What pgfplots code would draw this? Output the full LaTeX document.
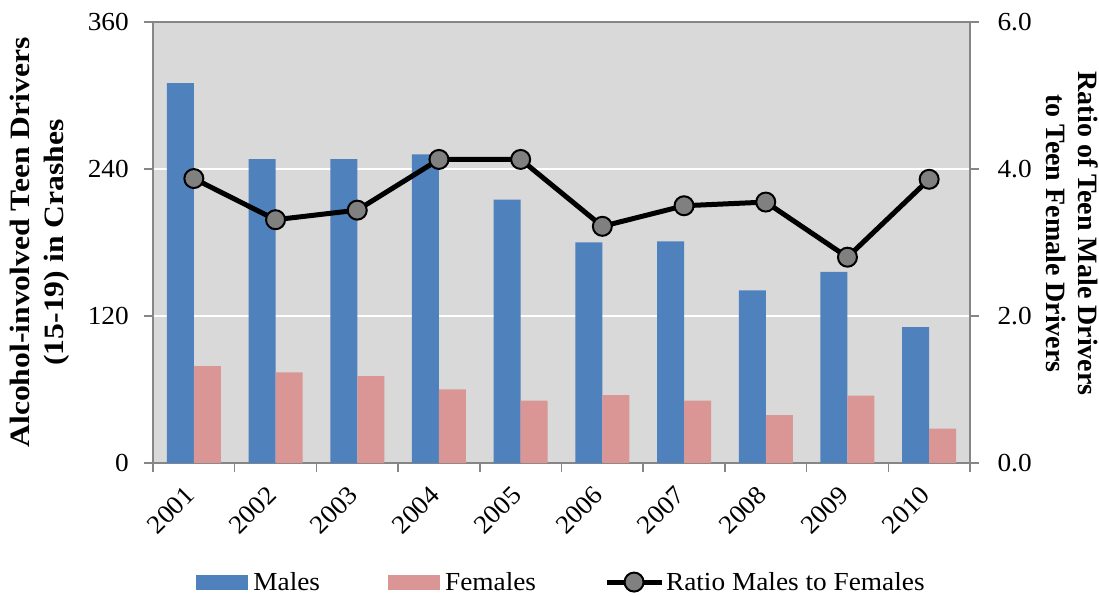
\documentclass[border=0pt]{standalone}
\usepackage{fontspec}
\setmainfont[FakeStretch=1.05]{Liberation Serif}
\newfontfamily\labelfont[FakeStretch=1.13]{Liberation Serif}
\newfontfamily\rlabelfont{Liberation Serif}
\usepackage{pgfplots}
\usepackage{pgfplotstable}
\pgfplotsset{compat=1.18}

\definecolor{males}{RGB}{79,129,189}
\definecolor{females}{RGB}{218,150,148}
\definecolor{plotbg}{RGB}{217,217,217}
\definecolor{axisgray}{RGB}{134,134,134}
\definecolor{markgray}{RGB}{128,128,128}

% Alcohol-involved teen drivers in crashes, by year
\pgfplotstableread{
idx year males females ratio
0 2001 310 79   3.87
1 2002 248 74   3.31
2 2003 248 71   3.44
3 2004 252 60   4.13
4 2005 215 51   4.13
5 2006 180 55.5 3.22
6 2007 181 51   3.50
7 2008 141 39   3.55
8 2009 156 55   2.80
9 2010 111 28   3.86
}\crashdata

\pgfplotsset{
  base/.style={
    scale only axis, width=817pt, height=441pt,
    xmin=-0.5, xmax=9.5,
    font=\fontsize{26}{30}\selectfont,
    /pgf/number format/assume math mode=true,
    tick align=outside,
    major tick length=9pt, minor tick length=9pt,
    tick style={axisgray, line width=1.5pt},
    axis line style={axisgray, line width=1.5pt},
  },
  swatch/.style={legend image code/.code={\fill[#1] (0pt,-7.5pt) rectangle (52pt,7.5pt);
    \path (55pt,0pt);}},
  ratio line/.style={black, line width=5pt, mark=*, mark size=9.5pt,
    mark options={fill=markgray, draw=black, line width=2pt}},
  ratio legend/.style={legend image code/.code={
    \draw[##1, mark=none] (0pt,0pt) -- (55pt,0pt);
    \draw[##1] plot coordinates {(27.5pt,0pt)};}},
}

\begin{document}
\begin{tikzpicture}
\begin{axis}[base, name=main,
  axis background/.style={fill=plotbg},
  ymin=0, ymax=360, ytick={0,120,240,360},
  ytick pos=left, xtick pos=left,
  ymajorgrids, major y grid style={white, line width=2pt},
  xtick={0,...,9},
  xticklabels={2001,2002,2003,2004,2005,2006,2007,2008,2009,2010},
  major x tick style={draw=none},
  minor xtick={-0.5,0.5,...,9.5},
  minor x tick style={axisgray, line width=1.5pt},
  xticklabel style={rotate=45, anchor=north east, inner sep=3pt, xshift=-12.7pt, yshift=1.4pt},
  yticklabel style={inner sep=4pt, xshift=-11pt},
  ylabel={Alcohol-involved Teen Drivers\\(15-19) in Crashes},
  ylabel style={at={(axis description cs:-0.1383,0.5)}, anchor=center, align=center,
    font=\labelfont\bfseries\fontsize{28}{34}\selectfont},
  ybar=0pt, bar width=27pt,
  legend style={at={(0.5,-0.27)}, anchor=center, draw=none, fill=none,
    legend columns=3, font=\fontsize{26}{30}\selectfont,
    /tikz/every even column/.append style={column sep=66pt}},
  legend cell align=left,
]
\addplot[fill=males, draw=none, swatch=males]
  table[x=idx, y=males]{\crashdata};
\addlegendentry{Males}
\addplot[fill=females, draw=none, swatch=females]
  table[x=idx, y=females]{\crashdata};
\addlegendentry{Females}
\addlegendimage{ratio line, ratio legend}
\addlegendentry{Ratio Males to Females}
\end{axis}

\begin{axis}[base,
  ymin=0, ymax=6, ytick={0,2,4,6},
  axis y line*=right, axis x line=none,
  yticklabel style={xshift=15pt, /pgf/number format/.cd, fixed, fixed zerofill, precision=1},
  ylabel={Ratio of Teen Male Drivers\\to Teen Female Drivers},
  ylabel style={at={(axis description cs:1.1248,0.52)}, anchor=center, align=center, rotate=180,
    font=\rlabelfont\bfseries\fontsize{28}{32}\selectfont},
]
\addplot[ratio line] table[x=idx, y=ratio]{\crashdata};
\end{axis}

\pgfresetboundingbox
\path (main.south west) ++(-153pt,-133pt) rectangle ++(1099pt,596pt);
\end{tikzpicture}
\end{document}
